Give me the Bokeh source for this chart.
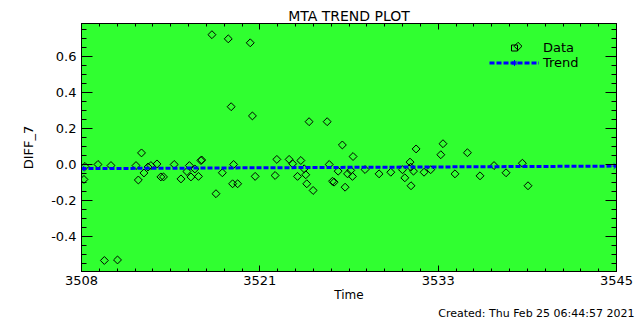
import numpy as np
from bokeh.plotting import figure
from bokeh.models import (Range1d, FixedTicker, LinearAxis, Legend, LegendItem,
                          Title, CustomJSTickFormatter)
from bokeh.embed import file_html
from bokeh.resources import INLINE

# ---- data ----
time = [3508.24, 3508.17, 3509.14, 3509.58, 3510.04, 3510.49, 3511.77, 3511.93,
        3512.15, 3512.32, 3512.60, 3512.80, 3513.22, 3513.49, 3513.67, 3514.41,
        3514.88, 3515.29, 3515.46, 3515.57, 3515.84, 3516.09, 3516.26, 3516.31,
        3517.02, 3517.30, 3517.74, 3518.15, 3518.35, 3518.45, 3518.52, 3518.80,
        3519.67, 3519.82, 3520.01, 3521.39, 3521.51, 3522.36, 3522.60, 3522.94,
        3523.17, 3523.40, 3523.51, 3523.58, 3523.74, 3524.02, 3524.99, 3525.13,
        3525.36, 3525.47, 3525.75, 3526.04, 3526.23, 3526.40, 3526.62, 3526.74,
        3526.78, 3527.61, 3528.58, 3529.39, 3530.20, 3530.36, 3530.72, 3530.77,
        3530.79, 3530.96, 3531.14, 3531.69, 3532.15, 3532.85, 3533.00, 3533.83,
        3534.69, 3535.56, 3536.53, 3537.36, 3538.19, 3538.49, 3538.88]
diff7 = [-0.011, -0.083, 0.000, -0.532, -0.006, -0.529, -0.006, -0.086,
         0.064, -0.047, -0.014, -0.006, 0.003, -0.069, -0.069, 0.000,
         -0.080, -0.039, -0.006, -0.069, -0.025, -0.066, 0.022, 0.025,
         0.719, -0.162, -0.046, 0.696, 0.320, -0.107, 0.000, -0.107,
         0.674, 0.269, -0.066, -0.061, 0.028, 0.028, 0.004, -0.066,
         0.022, -0.024, -0.057, -0.107, 0.237, -0.144, 0.237, 0.000,
         -0.093, -0.098, -0.037, 0.108, -0.126, -0.052, -0.033, -0.066,
         0.044, -0.028, -0.052, -0.043, -0.029, -0.074, 0.013, -0.015,
         -0.118, -0.037, 0.086, -0.043, -0.029, 0.054, 0.115, -0.052,
         0.065, -0.063, -0.006, -0.046, 0.655, 0.007, -0.118]
trend_time = [3508.0, 3545.0]
trend_value = [-0.023, -0.009]

x_ticks = [3508.0, 3520.333, 3532.667, 3545.0]
x_tick_labels = ["3508", "3521", "3533", "3545"]
y_ticks = [-0.4, -0.2, 0.0, 0.2, 0.4, 0.6]
y_tick_labels = ["-0.4", "-0.2", "0.0", "0.2", "0.4", "0.6"]

title_text = "MTA TREND PLOT"
x_label = "Time"
y_label = "DIFF_7"
created_text = "Created: Thu Feb 25 06:44:57 2021"

FONT = "DejaVu Sans"
GREEN = "#30ff30"

p = figure(width=640, height=320, output_backend="svg", toolbar_location=None,
           x_range=Range1d(3508, 3545), y_range=Range1d(-0.593, 0.781),
           min_border_left=81, min_border_right=24, min_border_top=23,
           min_border_bottom=49, x_axis_location=None, y_axis_location=None)
p.background_fill_color = GREEN
p.border_fill_color = "white"
p.outline_line_color = "black"
p.outline_line_width = 1
p.xgrid.visible = False
p.ygrid.visible = False

p.title.text = title_text
p.title.align = "center"
p.title.text_font = FONT
p.title.text_font_size = "14px"
p.title.text_font_style = "normal"
p.title.text_color = "black"
p.title.standoff = 0
p.title.offset = 0

x_minor = list(np.linspace(3508, 3545, 31))
y_minor = list(np.round(np.arange(-11, 16) * 0.05, 2))
xt = FixedTicker(ticks=x_ticks, minor_ticks=x_minor)
yt = FixedTicker(ticks=y_ticks, minor_ticks=y_minor)
blank = CustomJSTickFormatter(code="return ''")


def style_axis(ax, major_in, minor_in, labels):
    ax.axis_line_color = "black"
    ax.major_tick_line_color = "black"
    ax.minor_tick_line_color = "black"
    ax.major_tick_in = major_in
    ax.major_tick_out = 0
    ax.minor_tick_in = minor_in
    ax.minor_tick_out = 0
    if labels:
        ax.major_label_text_font = FONT
        ax.major_label_text_font_size = "13px"
        ax.major_label_text_color = "black"
        ax.axis_label_text_font = FONT
        ax.axis_label_text_font_size = "13px"
        ax.axis_label_text_font_style = "normal"
        ax.axis_label_text_color = "black"
    else:
        ax.formatter = blank
        ax.major_label_standoff = 0


xb = LinearAxis(ticker=xt, axis_label=x_label,
                major_label_overrides=dict(zip(x_ticks, x_tick_labels)))
style_axis(xb, 6, 3, True)
xb.major_label_standoff = 4
xb.axis_label_standoff = 0
xb.axis_label_text_font_size = "12px"
p.add_layout(xb, "below")

xa = LinearAxis(ticker=xt)
style_axis(xa, 6, 3, False)
p.add_layout(xa, "above")

yl = LinearAxis(ticker=yt, axis_label=y_label,
                major_label_overrides=dict(zip(y_ticks, y_tick_labels)))
style_axis(yl, 11, 5, True)
yl.major_label_standoff = 5
yl.axis_label_standoff = 12
p.add_layout(yl, "left")

yr = LinearAxis(ticker=yt)
style_axis(yr, 11, 5, False)
p.add_layout(yr, "right")

# data
data_r = p.scatter(time, diff7, marker="square", size=5.6, angle=np.pi / 4,
                   fill_color=None, line_color="black", line_width=1)
# trend
trend_l = p.line(trend_time, trend_value, line_color="blue", line_width=3,
                 line_dash="5 2")
trend_s = p.scatter(trend_time, trend_value, marker="asterisk", size=8,
                    line_color="blue", line_width=1)

legend = Legend(items=[LegendItem(label="Data", renderers=[data_r]),
                       LegendItem(label="Trend", renderers=[trend_l, trend_s])],
                location=(408, 201), orientation="vertical")
legend.background_fill_alpha = 0
legend.border_line_color = None
legend.padding = 0
legend.spacing = 0
legend.margin = 0
legend.label_height = 15
legend.glyph_height = 15
legend.glyph_width = 50
legend.label_text_font = FONT
legend.label_text_font_size = "13px"
legend.label_text_color = "black"
legend.label_standoff = 4
p.add_layout(legend, "center")

created = Title(text=created_text, align="right", text_font=FONT,
                text_font_size="11px", text_font_style="normal",
                text_color="black", standoff=0, offset=-18)
p.add_layout(created, "below")

open("out.html", "w").write(file_html(p, INLINE))
